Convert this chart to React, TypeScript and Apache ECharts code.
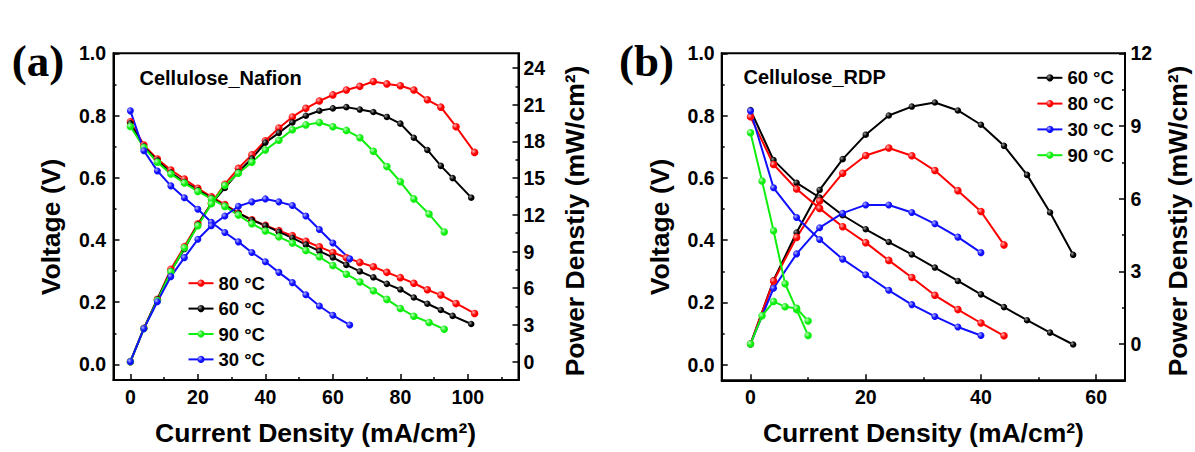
import React, { useEffect, useRef } from "react";
import * as echarts from "echarts";

const FONT = '"Liberation Sans", Arial, sans-serif';

// ---------- Panel (a): Cellulose_Nafion ----------
const xA80 = [0, 4, 8, 12, 16, 20, 24, 28, 32, 36, 40, 44, 48, 52, 56, 60, 64, 68, 72, 76, 80, 84, 88, 92, 96.5, 102];
const vA80 = [0.78, 0.705, 0.66, 0.625, 0.596, 0.566, 0.539, 0.514, 0.487, 0.465, 0.447, 0.43, 0.414, 0.396, 0.378, 0.36, 0.343, 0.328, 0.314, 0.296, 0.279, 0.261, 0.24, 0.223, 0.196, 0.164];
const pA80 = [0, 2.73, 5.1, 7.55, 9.4, 11.26, 12.95, 14.5, 15.8, 16.9, 18.05, 19.1, 20.0, 20.7, 21.3, 21.8, 22.2, 22.5, 22.9, 22.7, 22.55, 22.2, 21.4, 20.8, 19.2, 17.1];

const xA60 = [0, 4, 8, 12, 16, 20, 24, 28, 32, 36, 40, 44, 48, 52, 56, 60, 64, 68, 72, 76, 80, 84, 88, 92, 95.5, 101];
const vA60 = [0.775, 0.7, 0.655, 0.617, 0.586, 0.56, 0.535, 0.51, 0.486, 0.464, 0.446, 0.426, 0.407, 0.385, 0.364, 0.344, 0.32, 0.299, 0.28, 0.259, 0.241, 0.215, 0.195, 0.175, 0.156, 0.13];
const pA60 = [0, 2.7, 5.1, 7.4, 9.2, 11.2, 12.9, 14.2, 15.5, 16.6, 17.9, 18.7, 19.55, 20.1, 20.5, 20.7, 20.8, 20.6, 20.4, 20.0, 19.45, 18.3, 17.3, 16.0, 15.0, 13.4];

const xA90 = [0, 4, 8, 12, 16, 20, 24, 28, 32, 36, 40, 44, 48, 52, 56, 60, 64, 68, 72, 76, 80, 84, 88.5, 93];
const vA90 = [0.765, 0.697, 0.65, 0.612, 0.583, 0.556, 0.532, 0.508, 0.48, 0.452, 0.429, 0.41, 0.39, 0.366, 0.346, 0.318, 0.29, 0.265, 0.237, 0.209, 0.18, 0.155, 0.135, 0.113];
const pA90 = [0, 2.7, 5.0, 7.35, 9.3, 11.1, 12.9, 14.4, 15.4, 16.3, 17.3, 18.1, 18.95, 19.35, 19.55, 19.2, 18.9, 18.3, 17.2, 15.95, 14.7, 13.3, 12.06, 10.6];

const xA30 = [0, 4, 8, 12, 16, 20, 24, 28, 32, 36, 40, 44, 48, 52, 56, 60, 65];
const vA30 = [0.815, 0.687, 0.622, 0.574, 0.536, 0.499, 0.457, 0.424, 0.394, 0.36, 0.33, 0.296, 0.263, 0.224, 0.188, 0.158, 0.127];
const pA30 = [0, 2.7, 4.9, 6.95, 8.5, 10.0, 11.1, 11.9, 12.7, 13.06, 13.3, 13.06, 12.76, 11.9, 10.8, 9.7, 8.4];

// ---------- Panel (b): Cellulose_RDP ----------
const xB60 = [0, 4, 8, 12, 16, 20, 24, 28, 32, 36, 40, 44, 48, 52, 56];
const vB60 = [0.818, 0.657, 0.584, 0.537, 0.48, 0.435, 0.394, 0.354, 0.312, 0.269, 0.226, 0.185, 0.143, 0.103, 0.065];
const pB60 = [0, 2.63, 4.6, 6.36, 7.63, 8.64, 9.43, 9.8, 9.97, 9.64, 9.05, 8.18, 6.98, 5.43, 3.68];

const xB80 = [0, 4, 8, 12, 16, 20, 24, 28, 32, 36, 40, 44];
const vB80 = [0.796, 0.643, 0.564, 0.502, 0.443, 0.392, 0.335, 0.28, 0.223, 0.177, 0.134, 0.093];
const pB80 = [0, 2.6, 4.4, 5.9, 7.05, 7.78, 8.09, 7.77, 7.16, 6.33, 5.47, 4.09];

const xB30 = [0, 4, 8, 12, 16, 20, 24, 28, 32, 36, 40];
const vB30 = [0.815, 0.568, 0.473, 0.402, 0.339, 0.289, 0.239, 0.193, 0.155, 0.121, 0.094];
const pB30 = [0, 2.3, 3.72, 4.8, 5.4, 5.74, 5.74, 5.43, 4.96, 4.41, 3.77];

const xB90 = [0, 2, 4, 6, 8, 10];
const vB90 = [0.745, 0.59, 0.43, 0.26, 0.177, 0.094];
const pB90 = [0, 1.16, 1.75, 1.54, 1.47, 0.95];

// ---------- Ticks / labels ----------
const xTicksA = [0, 20, 40, 60, 80, 100];
const xMinorA = [10, 30, 50, 70, 90, 110];
const xTicksB = [0, 20, 40, 60];
const xMinorB = [10, 30, 50];
const vTicks = [0, 0.2, 0.4, 0.6, 0.8, 1.0];
const vMinor = [0.1, 0.3, 0.5, 0.7, 0.9];
const pTicksA = [0, 3, 6, 9, 12, 15, 18, 21, 24];
const pMinorA = [1.5, 4.5, 7.5, 10.5, 13.5, 16.5, 19.5, 22.5];
const pTicksB = [0, 3, 6, 9, 12];
const pMinorB = [1.5, 4.5, 7.5, 10.5];

const legendA = ["80 °C", "60 °C", "90 °C", "30 °C"];
const legendB = ["60 °C", "80 °C", "30 °C", "90 °C"];

const COL: Record<string, [string, string]> = {
  "80 °C": ["#ff0000", "#ffb0b0"],
  "60 °C": ["#000000", "#9a9a9a"],
  "90 °C": ["#10ee10", "#c0ffc0"],
  "30 °C": ["#1010ff", "#b0b0ff"],
};
const SIZE: Record<string, number> = { "80 °C": 7.5, "60 °C": 6.5, "90 °C": 7.5, "30 °C": 7 };

function sphere(base: string, hi: string) {
  return {
    type: "radial",
    x: 0.35,
    y: 0.35,
    r: 0.7,
    colorStops: [
      { offset: 0, color: hi },
      { offset: 0.55, color: base },
      { offset: 1, color: base },
    ],
  };
}

function mk(name: string, xs: number[], ys: number[], xi: number, yi: number) {
  const [c, h] = COL[name];
  return {
    type: "line",
    name,
    xAxisIndex: xi,
    yAxisIndex: yi,
    data: xs.map((x, i) => [x, ys[i]]),
    symbol: "circle",
    symbolSize: SIZE[name],
    showSymbol: true,
    lineStyle: { color: c, width: 2 },
    itemStyle: { color: sphere(c, h) as any },
    emphasis: { disabled: true },
    silent: true,
  };
}

const labelStyle = { color: "#000", fontSize: 19.5, fontWeight: "bold", fontFamily: FONT };
const legendText = { color: "#000", fontSize: 18.5, fontWeight: "bold", fontFamily: FONT };

function mainX(gridIndex: number, min: number, max: number, ticks: number[]) {
  return {
    type: "value",
    gridIndex,
    min,
    max,
    position: "bottom",
    axisLine: { show: true, onZero: false, lineStyle: { color: "#000", width: 2 } },
    axisTick: { show: true, inside: true, length: 6, lineStyle: { color: "#000", width: 1.5 }, customValues: ticks },
    axisLabel: { show: true, customValues: ticks, margin: 7, ...labelStyle },
    splitLine: { show: false },
  };
}
function minorX(gridIndex: number, min: number, max: number, ticks: number[]) {
  return {
    type: "value",
    gridIndex,
    min,
    max,
    position: "bottom",
    axisLine: { show: false, onZero: false },
    axisTick: { show: true, inside: true, length: 3, lineStyle: { color: "#000", width: 1.5 }, customValues: ticks },
    axisLabel: { show: false },
    splitLine: { show: false },
  };
}
function mainY(gridIndex: number, min: number, max: number, ticks: number[], pos: string, margin: number, fmt: (v: number) => string) {
  return {
    type: "value",
    gridIndex,
    min,
    max,
    position: pos,
    axisLine: { show: true, onZero: false, lineStyle: { color: "#000", width: 2 } },
    axisTick: { show: true, inside: true, length: 6, lineStyle: { color: "#000", width: 1.5 }, customValues: ticks },
    axisLabel: { show: true, customValues: ticks, margin, formatter: fmt, ...labelStyle },
    splitLine: { show: false },
  };
}
function minorY(gridIndex: number, min: number, max: number, ticks: number[], pos: string) {
  return {
    type: "value",
    gridIndex,
    min,
    max,
    position: pos,
    axisLine: { show: false, onZero: false },
    axisTick: { show: true, inside: true, length: 3, lineStyle: { color: "#000", width: 1.5 }, customValues: ticks },
    axisLabel: { show: false },
    splitLine: { show: false },
  };
}

const fmtV = (v: number) => v.toFixed(1);
const fmtP = (v: number) => String(Math.round(v));

function title(text: string, x: number, y: number, size: number, rot = 0, align = "center", family = FONT) {
  return {
    type: "text",
    x,
    y,
    rotation: rot,
    silent: true,
    style: {
      text,
      fill: "#000",
      font: `bold ${size}px ${family}`,
      align,
      verticalAlign: "middle",
    },
  };
}

export default function App() {
  const ref = useRef<HTMLDivElement>(null);
  useEffect(() => {
    if (!ref.current) return;
    const chart = echarts.init(ref.current, undefined, { renderer: "svg" });
    const legendCommon = {
      orient: "vertical",
      itemWidth: 25,
      itemHeight: 9,
      padding: 0,
      selectedMode: false,
      textStyle: { ...legendText, lineHeight: 18 },
    };
    const option: any = {
      animation: false,
      backgroundColor: "#ffffff",
      grid: [
        { left: 113.5, top: 53.3, width: 405, height: 326.7, show: true, borderColor: "#000", borderWidth: 2, backgroundColor: "transparent" },
        { left: 721.7, top: 53.3, width: 403.3, height: 327, show: true, borderColor: "#000", borderWidth: 2, backgroundColor: "transparent" },
      ],
      xAxis: [
        mainX(0, -5, 115, xTicksA),
        minorX(0, -5, 115, xMinorA),
        mainX(1, -5, 65, xTicksB),
        minorX(1, -5, 65, xMinorB),
      ],
      yAxis: [
        mainY(0, -0.05, 1.0, vTicks, "left", 7.5, fmtV),
        minorY(0, -0.05, 1.0, vMinor, "left"),
        mainY(0, -1.5, 25.2, pTicksA, "right", 5, fmtP),
        minorY(0, -1.5, 25.2, pMinorA, "right"),
        mainY(1, -0.05, 1.0, vTicks, "left", 7, fmtV),
        minorY(1, -0.05, 1.0, vMinor, "left"),
        mainY(1, -1.5, 12, pTicksB, "right", 5.5, fmtP),
        minorY(1, -1.5, 12, pMinorB, "right"),
      ],
      legend: [
        { ...legendCommon, data: legendA, left: 187.5, top: 273.7, itemGap: 6.4 },
        { ...legendCommon, data: legendB, left: 1036.4, top: 68.3, itemGap: 6.8 },
      ],
      series: [
        mk("80 °C", xA80, vA80, 0, 0),
        mk("80 °C", xA80, pA80, 0, 2),
        mk("60 °C", xA60, vA60, 0, 0),
        mk("60 °C", xA60, pA60, 0, 2),
        mk("90 °C", xA90, vA90, 0, 0),
        mk("90 °C", xA90, pA90, 0, 2),
        mk("30 °C", xA30, vA30, 0, 0),
        mk("30 °C", xA30, pA30, 0, 2),

        mk("60 °C", xB60, vB60, 2, 4),
        mk("60 °C", xB60, pB60, 2, 6),
        mk("80 °C", xB80, vB80, 2, 4),
        mk("80 °C", xB80, pB80, 2, 6),
        mk("30 °C", xB30, vB30, 2, 4),
        mk("30 °C", xB30, pB30, 2, 6),
        mk("90 °C", xB90, vB90, 2, 4),
        mk("90 °C", xB90, pB90, 2, 6),
      ],
      graphic: [
        title("(a)", 11.7, 61, 45, 0, "left", '"Liberation Serif", "Times New Roman", serif'),
        title("(b)", 619, 61, 45, 0, "left", '"Liberation Serif", "Times New Roman", serif'),
        title("Cellulose_Nafion", 139.5, 78, 20, 0, "left"),
        title("Cellulose_RDP", 743.5, 77.3, 20, 0, "left"),
        title("Voltage (V)", 50.5, 227, 26.5, Math.PI / 2),
        title("Voltage (V)", 660, 227, 26.5, Math.PI / 2),
        title("Power Denstiy (mW/cm²)", 575, 221, 26.5, Math.PI / 2),
        title("Power Denstiy (mW/cm²)", 1178, 221, 26.5, Math.PI / 2),
        title("Current Density (mA/cm²)", 315.6, 433, 26.5),
        title("Current Density (mA/cm²)", 923.4, 433, 26.5),
      ],
    };
    chart.setOption(option);
    return () => chart.dispose();
  }, []);
  return (
    <div
      ref={ref}
      style={{ position: "absolute", left: 0, top: 0, width: 1195, height: 452, background: "#fff" }}
    />
  );
}
